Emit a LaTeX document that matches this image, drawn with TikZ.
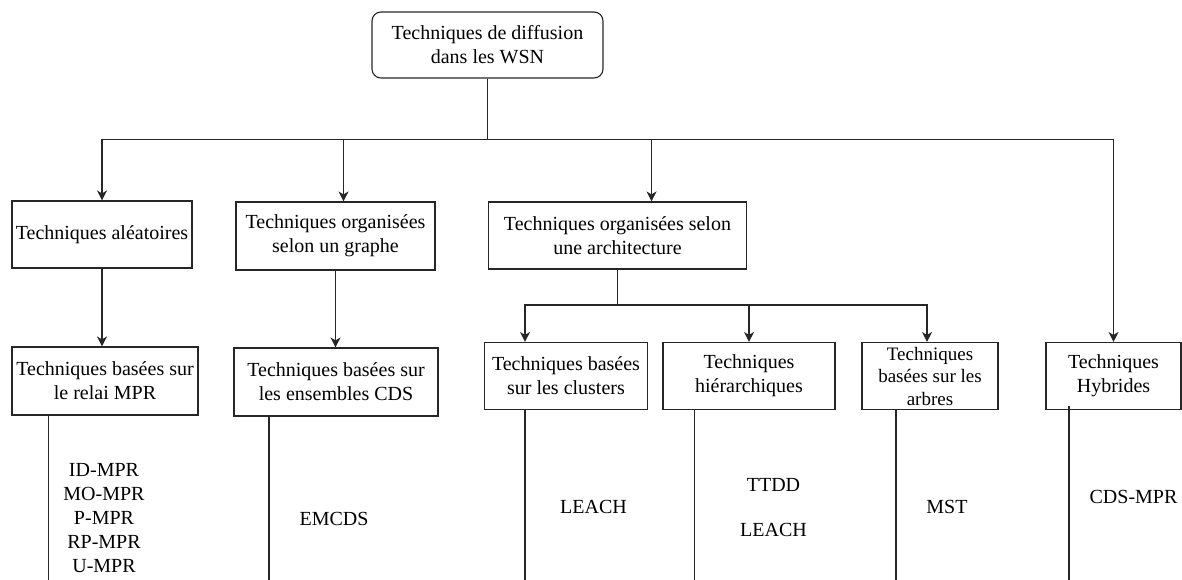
\documentclass[tikz,border=0pt]{standalone}
\usepackage{fontspec}
\setmainfont{Liberation Serif}
\usetikzlibrary{arrows.meta}
\begin{document}
\begin{tikzpicture}[x=1pt,y=-1pt,
  box/.style={draw=black!85,line width=1.1pt,inner sep=0pt,align=center,font=\fontsize{20}{24}\selectfont},
  lbl/.style={inner sep=0pt,align=center,font=\fontsize{20}{24}\selectfont},
  con/.style={draw=black!85,line width=1.1pt},
  arr/.style={con,-{Stealth[length=10pt,width=10pt,inset=3pt]}}]
\useasboundingbox (0,0) rectangle (1182,580);
% root
\node[box,rounded corners=9pt,minimum width=231,minimum height=66] (root) at (487.5,45) {Techniques de diffusion\\dans les WSN};
% row 1
\node[box,minimum width=180,minimum height=67] (B1) at (102,234.5) {Techniques aléatoires};
\node[box,minimum width=199,minimum height=68] (B2) at (335.5,236) {Techniques organisées\\selon un graphe};
\node[box,minimum width=258,minimum height=67] (B3) at (617.5,235.5) {Techniques organisées selon\\une architecture};
% row 2
\node[box,minimum width=186,minimum height=68] (B4) at (105,381) {Techniques basées sur\\le relai MPR};
\node[box,minimum width=204,minimum height=68] (B5) at (336,382) {Techniques basées sur\\les ensembles CDS};
\node[box,minimum width=163,minimum height=67] (B6) at (566,376) {Techniques basées\\sur les clusters};
\node[box,minimum width=172,minimum height=67] (B7) at (749,376) {Techniques\\hiérarchiques};
\node[box,minimum width=136,minimum height=67,font=\fontsize{19}{22.5}\selectfont] (B8) at (930,376) {Techniques\\basées sur les\\arbres};
\node[box,minimum width=135,minimum height=67] (B9) at (1113.5,376) {Techniques\\Hybrides};
% bus
\coordinate (bus) at (0,139.5);
\coordinate (split) at (0,305);
\draw[arr] (root.south) |- (B1.north |- bus) -- (B1.north);
\draw[arr] (root.south) |- ([xshift=8pt]B2.north |- bus) -- ([xshift=8pt]B2.north);
\draw[arr] (root.south) |- ([xshift=34pt]B3.north |- bus) -- ([xshift=34pt]B3.north);
\draw[arr] (root.south) |- (B9.north |- bus) -- (B9.north);
% row1 to row2
\draw[arr] (B1.south) -- (B1.south |- B4.north);
\draw[arr] (B2.south) -- (B2.south |- B5.north);
\draw[arr] (B3.south) |- ([xshift=-41pt]B6.north |- split) -- ([xshift=-41pt]B6.north);
\draw[arr] (B3.south) |- (B7.north |- split) -- (B7.north);
\draw[arr] (B3.south) |- ([xshift=-3pt]B8.north |- split) -- ([xshift=-3pt]B8.north);
% lines below row 2
\coordinate (e4) at (48.6,580);
\coordinate (e5) at (269,580);
\coordinate (e6) at (525,580);
\coordinate (e7) at (694.5,580);
\coordinate (e8) at (896,580);
\coordinate (e9) at (1069,580);
\draw[con] (e4 |- B4.south) -- (e4);
\draw[con] (e5 |- B5.south) -- (e5);
\draw[con] (e6 |- B6.south) -- (e6);
\draw[con] (e7 |- B7.south) -- (e7);
\draw[con] (e8 |- B8.south) -- (e8);
\draw[con] ([yshift=4pt]e9 |- B9.south) -- (e9);
% labels
\node[lbl] (l4) at (104,518) {ID-MPR\\MO-MPR\\P-MPR\\RP-MPR\\U-MPR};
\node[lbl] (l5) at (334,519) {EMCDS};
\node[lbl] (l6) at (593.5,507) {LEACH};
\node[lbl] (l7a) at (773.5,485) {TTDD};
\node[lbl] (l7b) at (773.5,530) {LEACH};
\node[lbl] (l8) at (947,507) {MST};
\node[lbl] (l9) at (1133.5,497) {CDS-MPR};
\end{tikzpicture}
\end{document}
